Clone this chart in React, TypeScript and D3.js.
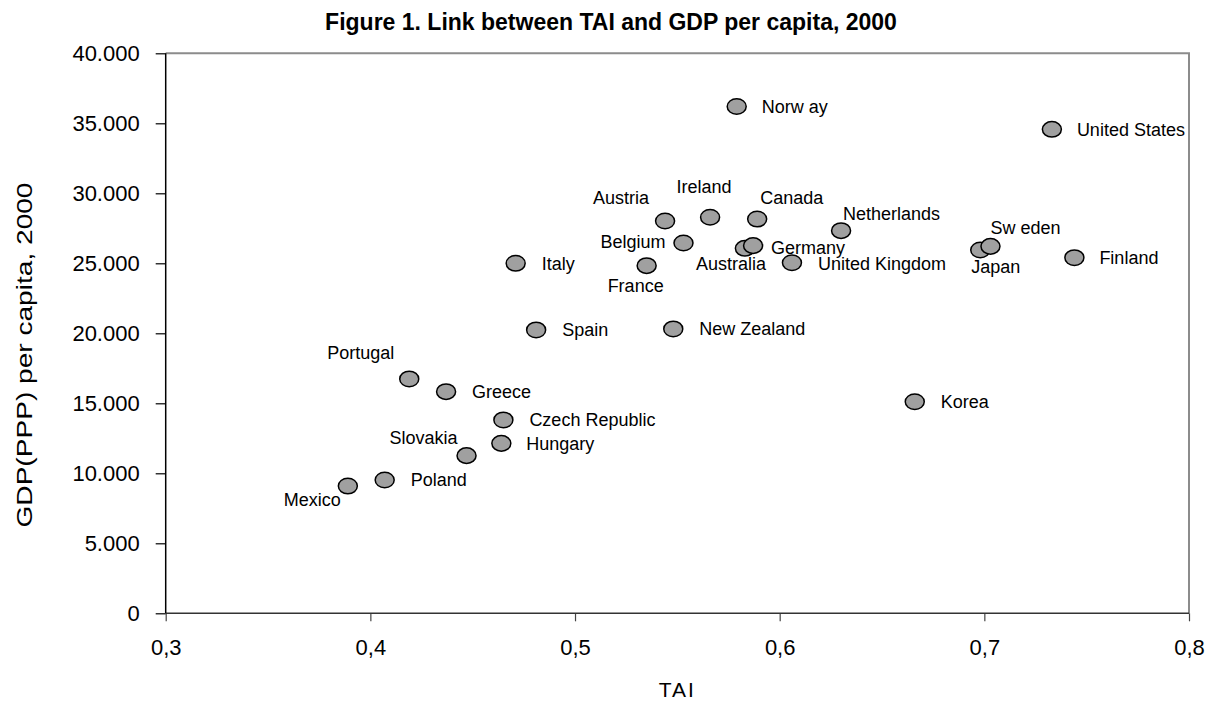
import { useEffect, useRef } from "react";
import * as d3 from "d3";

// Countries, TAI (x) and GDP(PPP) per capita (y)
const countries = [
    "Norw ay", "United States", "Austria", "Ireland", "Canada", "Netherlands",
    "Belgium", "Germany", "Australia", "Italy", "France", "United Kingdom",
    "Japan", "Sw eden", "Finland", "Spain", "New Zealand", "Portugal", "Greece",
    "Korea", "Czech Republic", "Hungary", "Slovakia", "Poland", "Mexico",
];
const tai = [
    0.579, 0.733, 0.544, 0.566, 0.589, 0.630,
    0.553, 0.583, 0.587, 0.471, 0.535, 0.606,
    0.698, 0.703, 0.744, 0.481, 0.548, 0.419, 0.437,
    0.666, 0.465, 0.464, 0.447, 0.407, 0.389,
];
const gdp = [
    36200, 34570, 28020, 28290, 28160, 27330,
    26450, 26070, 26260, 25000, 24830, 25040,
    25950, 26210, 25400, 20240, 20310, 16740, 15830,
    15110, 13810, 12140, 11260, 9520, 9090,
];

// Label placement relative to its marker: [dx, dy, anchor]
const labelPlacement: [ number, number, string ][] = [
    [ 25, 0, "start" ], [ 25, 0, "start" ], [ -16, -23, "end" ], [ -6, -31, "middle" ], [ 3, -21, "start" ], [ 2, -17, "start" ],
    [ -18, -1, "end" ], [ 26, -1, "start" ], [ -22, 18, "middle" ], [ 26, 0, "start" ], [ -11, 20, "middle" ], [ 26, 1, "start" ],
    [ -9, 17, "start" ], [ 0, -19, "start" ], [ 25, 0, "start" ], [ 26, 0, "start" ], [ 26, 0, "start" ], [ -15, -26, "end" ], [ 26, 0, "start" ],
    [ 26, 0, "start" ], [ 26, 0, "start" ], [ 25, 0, "start" ], [ -9, -18, "end" ], [ 26, 0, "start" ], [ -7, 14, "end" ],
];

const xTicks = [ 0.3, 0.4, 0.5, 0.6, 0.7, 0.8 ];
const yTicks = [ 0, 5000, 10000, 15000, 20000, 25000, 30000, 35000, 40000 ];

const title = "Figure 1. Link between TAI and GDP per capita, 2000";
const xTitle = "TAI";
const yTitle = "GDP(PPP) per capita, 2000";

const W = 1209, H = 701;
const FONT = "Liberation Sans, Arial, sans-serif";

export default function App ()
{
    const svgRef = useRef<SVGSVGElement>( null );

    useEffect( () =>
    {
        if ( !svgRef.current ) return;
        const svg = d3.select( svgRef.current );
        svg.selectAll( "*" ).remove();

        const m = { top: 53.3, right: 20, bottom: 87.7, left: 165.7 };
        const x = d3.scaleLinear().domain( [ 0.3, 0.8 ] ).range( [ m.left, W - m.right ] );
        const y = d3.scaleLinear().domain( [ 0, 40000 ] ).range( [ H - m.bottom, m.top ] );

        const loc = d3.formatLocale( { decimal: ",", thousands: ".", grouping: [ 3 ], currency: [ "", "" ] } );
        const fmtX = loc.format( ".1f" );
        const fmtY = loc.format( ",.0f" );

        svg.append( "rect" ).attr( "width", W ).attr( "height", H ).attr( "fill", "#fff" );

        // frame: top and right grey
        svg.append( "path" )
            .attr( "d", `M${ x( 0.3 ) },${ y( 40000 ) }H${ x( 0.8 ) }V${ y( 0 ) }` )
            .attr( "fill", "none" ).attr( "stroke", "#8c8c8c" ).attr( "stroke-width", 2 );

        // x axis
        const gx = svg.append( "g" ).attr( "transform", `translate(0,${ y( 0 ) })` )
            .call( d3.axisBottom( x ).tickValues( xTicks ).tickSize( 8 ).tickPadding( 18 ).tickFormat( ( d ) => fmtX( d as number ) ) );
        gx.select( ".domain" ).remove();
        gx.selectAll( "line" ).attr( "stroke", "#444" ).attr( "stroke-width", 1.2 );
        gx.selectAll( "text" ).attr( "fill", "#000" ).style( "font-size", "22px" ).style( "font-family", FONT );

        // y axis
        const gy = svg.append( "g" ).attr( "transform", `translate(${ x( 0.3 ) },0)` )
            .call( d3.axisLeft( y ).tickValues( yTicks ).tickSize( 10 ).tickPadding( 16 ).tickFormat( ( d ) => fmtY( d as number ) ) );
        gy.select( ".domain" ).remove();
        gy.selectAll( "line" ).attr( "stroke", "#000" ).attr( "stroke-width", 1.2 );
        gy.selectAll( "text" ).attr( "fill", "#000" ).style( "font-size", "22px" ).style( "font-family", FONT );

        svg.append( "line" ).attr( "x1", x( 0.3 ) ).attr( "x2", x( 0.8 ) ).attr( "y1", y( 0 ) ).attr( "y2", y( 0 ) )
            .attr( "stroke", "#333" ).attr( "stroke-width", 1.5 );
        svg.append( "line" ).attr( "x1", x( 0.3 ) ).attr( "x2", x( 0.3 ) ).attr( "y1", y( 0 ) ).attr( "y2", y( 40000 ) )
            .attr( "stroke", "#000" ).attr( "stroke-width", 1.5 );

        // points
        const data = countries.map( ( c, i ) => ( { c, x: tai[ i ], y: gdp[ i ], p: labelPlacement[ i ] } ) );

        svg.append( "g" ).selectAll( "ellipse" ).data( data ).join( "ellipse" )
            .attr( "cx", ( d ) => x( d.x ) ).attr( "cy", ( d ) => y( d.y ) )
            .attr( "rx", 9.5 ).attr( "ry", 7.8 )
            .attr( "fill", "#a0a0a0" ).attr( "stroke", "#000" ).attr( "stroke-width", 1.5 );

        svg.append( "g" ).selectAll( "text" ).data( data ).join( "text" )
            .attr( "x", ( d ) => x( d.x ) + d.p[ 0 ] ).attr( "y", ( d ) => y( d.y ) + d.p[ 1 ] )
            .attr( "dy", "0.35em" ).attr( "text-anchor", ( d ) => d.p[ 2 ] )
            .attr( "fill", "#000" ).style( "font-size", "18px" ).style( "font-family", FONT )
            .text( ( d ) => d.c );

        // titles
        svg.append( "text" ).attr( "x", 611 ).attr( "y", 22 ).attr( "dy", "0.35em" ).attr( "text-anchor", "middle" )
            .style( "font-size", "23px" ).style( "font-weight", "bold" ).style( "font-family", FONT ).text( title );

        svg.append( "text" ).attr( "x", ( x( 0.3 ) + x( 0.8 ) ) / 2 ).attr( "y", 690 ).attr( "dy", "0.35em" ).attr( "text-anchor", "middle" )
            .style( "font-size", "21px" ).style( "letter-spacing", "2px" ).style( "font-family", FONT ).text( xTitle );

        svg.append( "text" ).attr( "transform", "translate(24,355) rotate(-90)" )
            .attr( "dy", "0.35em" ).attr( "text-anchor", "middle" )
            .attr( "textLength", 345 ).attr( "lengthAdjust", "spacingAndGlyphs" )
            .style( "font-size", "22px" ).style( "font-family", FONT ).text( yTitle );
    }, [] );

    return (
        <svg ref={ svgRef } width={ W } height={ H } style={ { position: "absolute", left: 0, top: 0 } } />
    );
}
